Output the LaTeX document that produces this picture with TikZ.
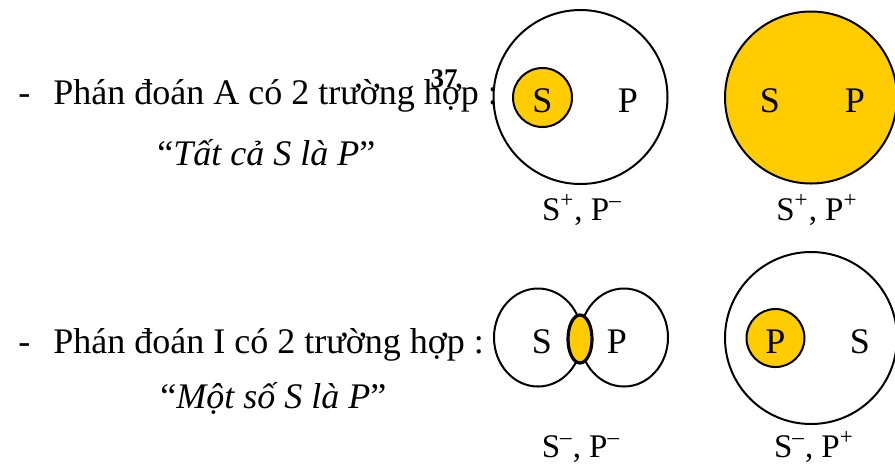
\documentclass[tikz,border=0pt]{standalone}
\usepackage{fontspec}
\setmainfont{Liberation Serif}
\definecolor{venn}{HTML}{FFCC00}
\tikzset{
  txt/.style={font=\fontsize{18}{22}\selectfont, inner sep=0pt, anchor=base west},
  lbl/.style={font=\fontsize{16.5}{20}\selectfont, inner sep=0pt, anchor=base},
  ring/.style={draw, line width=1pt},
}
\begin{document}
\begin{tikzpicture}[x=0.5pt,y=-0.5pt]
  \useasboundingbox (0,0) rectangle (895,463);
  % judgement A
  \node[txt] (dashA) at (18,104) {-};
  \node[txt] (textA) at (53,104) {Phán đoán A có 2 trường hợp :};
  \node[txt] (quoteA) at (157,165) {“\textit{Tất cả S là P}”};
  \node[font=\bfseries\fontsize{13.5}{16}\selectfont, inner sep=0pt] (page) at (444,79) {37};
  % A, first case
  \draw[ring] (580.5,97) circle (87);
  \draw[ring,fill=venn] (542.5,97.5) circle (29.5);
  \node[lbl,font=\fontsize{18}{22}\selectfont] (sA1) at (542.5,112) {S};
  \node[lbl,font=\fontsize{18}{22}\selectfont] (pA1) at (628,112) {P};
  \node[lbl] (caseA1) at (582,220) {S\textsuperscript{+}, P\textsuperscript{–}};
  % A, second case
  \draw[ring,fill=venn] (811,97.5) circle (86);
  \node[lbl,font=\fontsize{18}{22}\selectfont] (sA2) at (770,112) {S};
  \node[lbl,font=\fontsize{18}{22}\selectfont] (pA2) at (855,112) {P};
  \node[lbl] (caseA2) at (817,220) {S\textsuperscript{+}, P\textsuperscript{+}};
  % judgement I
  \node[txt] (dashI) at (18,353) {-};
  \node[txt] (textI) at (53,353) {Phán đoán I có 2 trường hợp :};
  \node[txt] (quoteI) at (160,408) {“\textit{Một số S là P}”};
  % I, first case
  \draw[ring] (538,337.5) ellipse (44 and 49);
  \draw[ring] (624,337.5) ellipse (44 and 49);
  \draw[ring,line width=1.6pt,fill=venn] (580,339) ellipse (12 and 24);
  \node[lbl,font=\fontsize{18}{22}\selectfont] (sI1) at (542,353) {S};
  \node[lbl,font=\fontsize{18}{22}\selectfont] (pI1) at (617,353) {P};
  \node[lbl] (caseI1) at (581,457) {S\textsuperscript{–}, P\textsuperscript{–}};
  % I, second case
  \draw[ring] (811,338) circle (86);
  \draw[ring,fill=venn] (775.5,338) circle (29);
  \node[lbl,font=\fontsize{18}{22}\selectfont] (pI2) at (775.5,353) {P};
  \node[lbl,font=\fontsize{18}{22}\selectfont] (sI2) at (860,353) {S};
  \node[lbl] (caseI2) at (814,457) {S\textsuperscript{–}, P\textsuperscript{+}};
\end{tikzpicture}
\end{document}
